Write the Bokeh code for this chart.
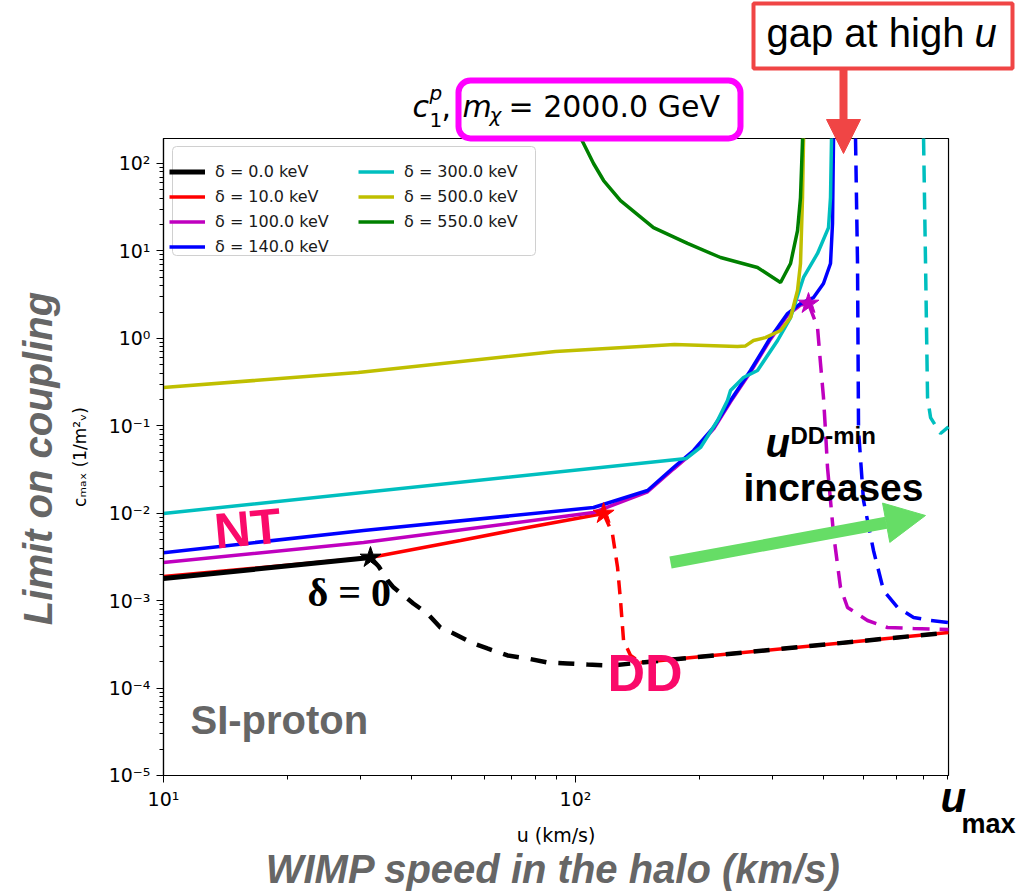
from bokeh.plotting import figure
from bokeh.models import (Label, BoxAnnotation, Arrow, NormalHead, Legend, LegendItem,
                          FixedTicker, CustomJSTickFormatter)
from bokeh.embed import file_html
from bokeh.resources import INLINE
import math

# ---------------- data (u in km/s, c_max in 1/m_v^2) ----------------
U_MIN, U_MAX = 10, 804.1
C_MIN, C_MAX = 1e-5, 193.2
# delta = 0 keV
u_d0_nt = [10, 31.8]
c_d0_nt = [0.00179, 0.00311]
u_d0_dd = [31.8, 33.3, 35.0, 36.2, 40.4, 43.7, 47.0, 50.6, 56.5, 61.1, 68.4, 76.5, 85.5, 95.6, 106.9, 121.6, 804]
c_d0_dd = [0.00311, 0.00246, 0.00170, 0.00141, 0.000928, 0.000713, 0.000493, 0.000421, 0.000324,
           0.000284, 0.000236, 0.000218, 0.000196, 0.000191, 0.000186, 0.000181, 0.000432]
# delta = 10 keV
u_d10_nt = [10, 31.8, 52.6, 76.5, 117]
c_d10_nt = [0.00189, 0.00311, 0.00488, 0.00687, 0.0099]
u_d10_dd = [117, 122.9, 126.5, 128.6, 130.8, 136.0, 143.8]
c_d10_dd = [0.0099, 0.00586, 0.00239, 0.001004, 0.00035, 0.000236, 0.000196]
u_d10_dd_tail = [143.8, 804]
c_d10_dd_tail = [0.000196, 0.000432]
# delta = 100 keV
u_d100_nt = [10, 30.6, 110.6, 149.6, 172.9, 193.4, 216.3, 237.8, 265.9, 297.4, 327.0, 351.6, 367.7]
c_d100_nt = [0.00273, 0.00462, 0.01019, 0.0176, 0.0320, 0.0502, 0.092, 0.188, 0.412, 0.98, 1.84, 2.40, 2.50]
u_d100_dd = [367.7, 386.7, 393.2, 399.8, 404.3, 408.9, 422.8, 439.7, 457.3, 511.3, 571.9, 661.4, 804]
c_d100_dd = [2.50, 1.33, 0.516, 0.211, 0.0883, 0.0333, 0.00586, 0.00141, 0.000835, 0.000593,
             0.000493, 0.000480, 0.000468]
# delta = 140 keV
u_d140_nt = [10, 30.6, 110.6, 149.6, 172.9, 193.4, 216.3, 237.8, 265.9, 297.4, 327.0, 351.6,
             378.2, 399.8, 415.8, 420.5, 422.8, 423.0]
c_d140_nt = [0.00354, 0.00634, 0.01162, 0.0182, 0.0333, 0.0522, 0.0956, 0.195, 0.429, 1.023, 1.92,
             2.50, 2.93, 4.24, 7.18, 20.6, 183, 193]
u_d140_dd = [478.2, 483.6, 486.3, 500.0, 528.7, 559.2, 604.8, 661.4, 727.3, 804]
c_d140_dd = [193, 7.18, 0.0883, 0.014, 0.00375, 0.00131, 0.000835, 0.000642, 0.000593, 0.00056]
# delta = 300 keV
u_d300_nt = [10, 185.9, 201.1, 221.2, 233.8, 237.8, 255.7, 276.5, 309.3, 332.6, 357.6, 386.7,
             411.2, 415.8, 418.1, 418.2]
c_d300_nt = [0.00993, 0.0423, 0.0565, 0.115, 0.195, 0.253, 0.357, 0.429, 0.945, 1.73, 4.97, 9.35,
             18.5, 40.8, 183, 193]
u_d300_dd = [699.4, 707.2, 715.2, 727.3, 769.0, 804]
c_d300_dd = [193, 7.18, 0.211, 0.124, 0.0816, 0.097]
# delta = 500 keV
u_d500_nt = [10, 29.7, 89.4, 173.9, 247.3, 258.6, 270.4, 288.9, 314.5, 332.6, 345.8, 351.6, 355.6,
             357.6, 357.7]
c_d500_nt = [0.274, 0.407, 0.707, 0.851, 0.807, 0.82, 0.945, 1.02, 1.23, 1.73, 3.53, 7.18, 40.8, 183, 193]
# delta = 550 keV
u_d550_nt = [103.1, 104.6, 110.6, 117, 128.6, 154.6, 187, 224.9, 276.5, 314.5, 332.6, 345.8, 351.6,
             355.6, 355.7]
c_d550_nt = [193, 169, 100, 63.9, 37.7, 18.5, 12.2, 8.41, 6.46, 4.35, 7.18, 17.1, 40.8, 183, 193]

# transition stars
star_u = [31.8, 117, 367.7]
star_c = [0.00311, 0.0099, 2.50]
star_col = ["black", "#ff0000", "#bf00bf"]

legend_labels = ["δ = 0.0 keV", "δ = 10.0 keV", "δ = 100.0 keV", "δ = 140.0 keV",
                 "δ = 300.0 keV", "δ = 500.0 keV", "δ = 550.0 keV"]
x_major = [10, 100]
y_major = [1e-5, 1e-4, 1e-3, 1e-2, 1e-1, 1, 10, 100]

W, H = 1020, 895
# ranges chosen so that the plotting box (10..804 km/s, 1e-5..193) sits inside the canvas
p = figure(x_axis_type="log", y_axis_type="log", x_range=(4.0219, 1202.3), y_range=(4.240e-7, 7318),
           frame_width=W, frame_height=H, min_border=0, output_backend="svg",
           toolbar_location=None, background_fill_color="white", border_fill_color="white")
p.xgrid.visible = False
p.ygrid.visible = False
p.outline_line_color = None

p.xaxis.ticker = FixedTicker(ticks=x_major,
                             minor_ticks=[k * 10 ** e for e in (1, 2) for k in range(2, 10) if k * 10 ** e < U_MAX])
p.yaxis.ticker = FixedTicker(ticks=y_major,
                             minor_ticks=[k * 10.0 ** e for e in range(-5, 3) for k in range(2, 10)
                                          if k * 10.0 ** e < C_MAX])
fmt = CustomJSTickFormatter(code="""
const e = Math.round(Math.log10(tick));
const sup = {'-':'\u207b','0':'\u2070','1':'\u00b9','2':'\u00b2','3':'\u00b3','4':'\u2074',
             '5':'\u2075','6':'\u2076','7':'\u2077','8':'\u2078','9':'\u2079'};
return '10' + String(e).split('').map(c => sup[c]).join('');
""")
p.xaxis.fixed_location = C_MIN
p.yaxis.fixed_location = U_MIN
p.xaxis.bounds = (U_MIN, U_MAX)
p.yaxis.bounds = (C_MIN, C_MAX)
for ax in (p.xaxis[0], p.yaxis[0]):
    ax.formatter = fmt
    ax.major_tick_out = 7
    ax.major_tick_in = 0
    ax.minor_tick_out = 4
    ax.minor_tick_in = 0
    ax.axis_line_color = "black"
    ax.axis_line_width = 1.2
    ax.major_tick_line_color = "black"
    ax.minor_tick_line_color = "black"
    ax.major_label_text_font = "DejaVu Sans"
    ax.major_label_text_font_size = "19px"
    ax.major_label_text_color = "black"
    ax.axis_label_text_font = "DejaVu Sans"
    ax.axis_label_text_font_style = "normal"
    ax.axis_label_text_color = "black"
p.xaxis.axis_label = "u (km/s)"
p.xaxis.axis_label_text_font_size = "19px"
p.xaxis.axis_label_standoff = 10
p.xaxis.major_label_standoff = 6
p.yaxis.axis_label = "cₘₐₓ (1/m²ᵥ)"
p.yaxis.axis_label_text_font_size = "17px"
p.yaxis.axis_label_standoff = 16
p.yaxis.major_label_standoff = 6

# plot box spines
p.add_layout(BoxAnnotation(left=U_MIN, right=U_MAX, bottom=C_MIN, top=C_MAX, fill_color=None,
                           line_color="black", line_alpha=1.0, line_width=1.2, level="underlay"))

LW = 3.5
DASH = "17 10"
r10 = p.line(u_d10_nt, c_d10_nt, line_color="#ff0000", line_width=LW)
p.line(u_d10_dd, c_d10_dd, line_color="#ff0000", line_width=LW, line_dash="14 9")
p.line(u_d10_dd_tail, c_d10_dd_tail, line_color="#ff0000", line_width=LW)
r0 = p.line(u_d0_nt, c_d0_nt, line_color="black", line_width=5)
p.line(u_d0_dd, c_d0_dd, line_color="black", line_width=4.5, line_dash="16 12")
r100 = p.line(u_d100_nt, c_d100_nt, line_color="#bf00bf", line_width=LW)
p.line(u_d100_dd, c_d100_dd, line_color="#bf00bf", line_width=LW, line_dash=DASH)
r140 = p.line(u_d140_nt, c_d140_nt, line_color="#0000ff", line_width=LW)
p.line(u_d140_dd, c_d140_dd, line_color="#0000ff", line_width=LW, line_dash=DASH)
r300 = p.line(u_d300_nt, c_d300_nt, line_color="#00bfbf", line_width=LW)
p.line(u_d300_dd, c_d300_dd, line_color="#00bfbf", line_width=LW, line_dash=DASH)
r500 = p.line(u_d500_nt, c_d500_nt, line_color="#bfbf00", line_width=LW)
r550 = p.line(u_d550_nt, c_d550_nt, line_color="#008000", line_width=LW)
p.scatter(star_u, star_c, marker="star", size=22, fill_color=star_col, line_color=star_col)

# legend: frame + two columns
p.add_layout(BoxAnnotation(left=172, right=535, top=H - 146, bottom=H - 255,
                           left_units="screen", right_units="screen", top_units="screen",
                           bottom_units="screen", fill_color="white", fill_alpha=0.8,
                           line_color="#d0d0d0", line_alpha=1.0, line_width=1, border_radius=4))
renders = [r0, r10, r100, r140, r300, r500, r550]
items = [LegendItem(label=l, renderers=[r]) for l, r in zip(legend_labels, renders)]
common = dict(padding=8, spacing=4, margin=0, label_text_font="DejaVu Sans", label_text_font_size="16px",
              label_text_color="#1a1a1a",
              label_height=21, glyph_height=21, glyph_width=36, label_standoff=10,
              border_line_color=None, background_fill_alpha=0.0)
p.add_layout(Legend(items=items[:4], location=(169, H - 256.5), **common))
p.add_layout(Legend(items=items[4:], location=(358, H - 231.5), **common))

PINK = "#fa0a6a"
GRAY = "#666666"


def lab(text, px, py, size, font="Liberation Sans", style="bold", color="black",
        align="left", baseline="alphabetic", angle=0.0):
    # px, py: pixel position of the text baseline start, measured from the top-left
    sy = H - py + (0.38 * size if baseline == "alphabetic" else 0)
    p.add_layout(Label(x=px, y=sy, x_units="screen", y_units="screen", text=text,
                       text_font=font, text_font_size=f"{size}px", text_font_style=style,
                       text_color=color, text_align=align, text_baseline=baseline, angle=angle))


# title (matplotlib style)
lab("c", 412, 117, 30, font="DejaVu Sans", style="italic")
lab("p", 429, 100, 20, font="DejaVu Sans", style="italic")
lab("1", 429, 127, 20, font="DejaVu Sans", style="normal")
lab(",", 441, 117, 30, font="DejaVu Sans", style="normal")
lab("m", 462, 117, 30, font="DejaVu Sans", style="italic")
lab("χ", 489, 122, 20, font="DejaVu Sans", style="italic")
lab("= 2000.0 GeV", 508, 117, 30, font="DejaVu Sans", style="normal")
p.add_layout(BoxAnnotation(left=458, right=740, top=H - 80, bottom=H - 138,
                           left_units="screen", right_units="screen", top_units="screen",
                           bottom_units="screen", fill_color=None, line_color="#ff00ff",
                           line_alpha=1.0, line_width=6, border_radius=12))

# "gap at high u" box and arrow
lab("gap at high ", 766, 48, 40, style="normal")
lab("u", 974, 48, 40, style="italic")
p.add_layout(BoxAnnotation(left=753, right=1012, top=H - 3, bottom=H - 68,
                           left_units="screen", right_units="screen", top_units="screen",
                           bottom_units="screen", fill_color=None, line_color="#f04545",
                           line_alpha=1.0, line_width=4))
p.add_layout(Arrow(x_start=843, y_start=H - 68, x_end=843, y_end=H - 153,
                   start_units="screen", end_units="screen", line_color="#f04545", line_width=8,
                   end=NormalHead(size=34, fill_color="#f04545", line_color="#f04545")))

# in-plot annotations
lab("NT", 214, 550, 50, color=PINK, angle=0.09)
lab("DD", 607, 692, 52, color=PINK)
lab("SI-proton", 190, 735, 40, color=GRAY)
lab("δ = 0", 307, 607, 40, font="Liberation Serif")
lab("u", 765, 458, 40, style="bold italic")
lab("DD-min", 790, 444, 24)
lab("increases", 743, 502, 39)
p.add_layout(Arrow(x_start=670, y_start=H - 562, x_end=925, y_end=H - 515,
                   start_units="screen", end_units="screen", line_color="#66dd66", line_width=12,
                   end=NormalHead(size=40, fill_color="#66dd66", line_color="#66dd66")))

# big axis captions
lab("Limit on coupling", 37, 458, 40, style="bold italic", color=GRAY, align="center",
    baseline="middle", angle=math.pi / 2)
lab("WIMP speed in the halo (km/s)", 553, 884, 40, style="bold italic", color=GRAY, align="center")
lab("u", 940, 813, 42, style="bold italic")
lab("max", 961, 834, 27, style="bold")

open("out.html", "w").write(file_html(p, INLINE))
